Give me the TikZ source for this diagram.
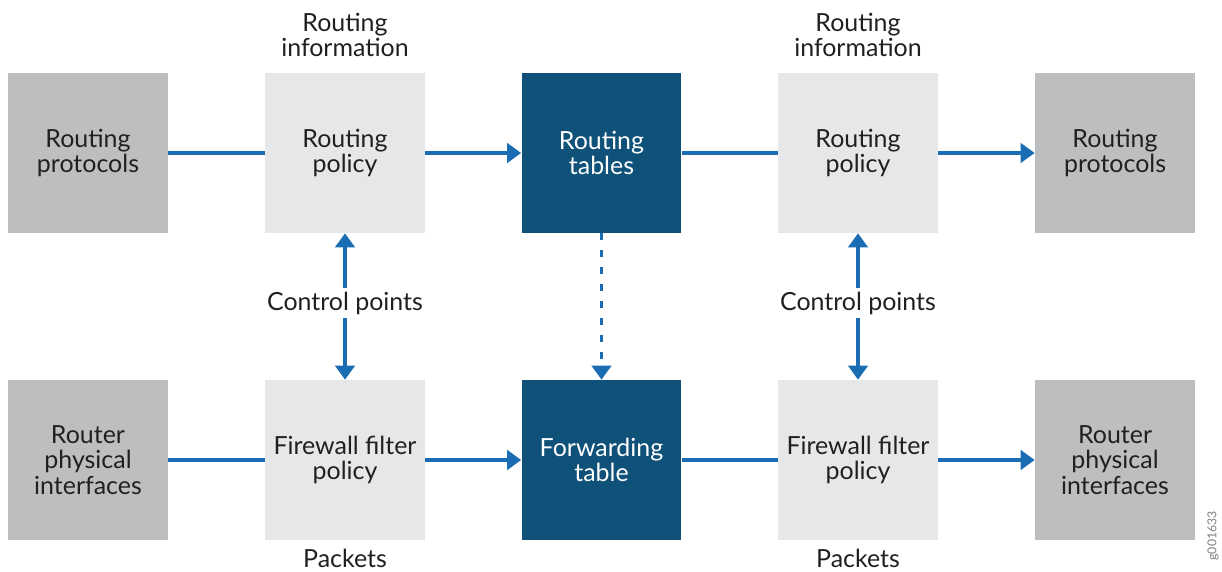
\documentclass[tikz,border=0pt]{standalone}
\usepackage{fontspec}
\setmainfont{Lato}
\usepackage{tikz}
\usetikzlibrary{arrows.meta,positioning}

\definecolor{darkgrey}{HTML}{BDBEC0}
\definecolor{lightgrey}{HTML}{E6E7E8}
\definecolor{navy}{HTML}{0F5178}
\definecolor{flow}{HTML}{1A6DB3}
\definecolor{ink}{HTML}{231F20}

\tikzset{
	box/.style={minimum width=3.2cm, minimum height=3.2cm, inner sep=0pt, align=center, text=ink, font=\fontsize{14.2}{14.4}\selectfont},
	outer/.style={box, fill=darkgrey},
	policy/.style={box, fill=lightgrey},
	table/.style={box, fill=navy, text=white},
	label/.style={align=center, text=ink, font=\fontsize{14.2}{14.4}\selectfont},
	flowline/.style={flow, line width=2.2pt},
	flowarrow/.style={flowline, -{Triangle[length=8pt,width=11pt]}},
	twoway/.style={flowline, {Triangle[length=8pt,width=11pt]}-{Triangle[length=8pt,width=11pt]}},
	dashedarrow/.style={flowarrow, dash pattern=on 0.14cm off 0.2cm}
}

\begin{document}
\begin{tikzpicture}[x=0.02cm,y=-0.02cm]
	\useasboundingbox (0,0) rectangle (1222,571);
	% top row
	\node[outer]  (protoin)  at (88,153)    {Routing\\protocols};
	\node[policy] (rpolin)   at (345,153)   {Routing\\policy};
	\node[table]  (rtables)  at (601.5,153) {Routing\\tables};
	\node[policy] (rpolout)  at (858,153)   {Routing\\policy};
	\node[outer]  (protoout) at (1115,153)  {Routing\\protocols};
	% bottom row
	\node[outer]  (ifin)     at (88,460)    {Router\\physical\\interfaces};
	\node[policy] (fwin)     at (345,460)   {Firewall filter\\policy};
	\node[table]  (fwdtable) at (601.5,460) {Forwarding\\table};
	\node[policy] (fwout)    at (858,460)   {Firewall filter\\policy};
	\node[outer]  (ifout)    at (1115,460)  {Router\\physical\\interfaces};
	% labels
	\node[label] (infoin)  at (345,35)  {Routing\\information};
	\node[label] (infoout) at (858,35)  {Routing\\information};
	\node[label, anchor=base, inner sep=0pt] (pktin)  at (345,567) {Packets};
	\node[label, anchor=base, inner sep=0pt] (pktout) at (858,567) {Packets};
	\node[text=gray, font=\fontsize{7}{8}\selectfont, rotate=90, anchor=east] (figid) at (1213,505) {g001633};
	% connectors
	\draw[flowline]  (protoin) -- (rpolin);
	\draw[flowarrow] (rpolin) -- (rtables);
	\draw[flowline]  (rtables) -- (rpolout);
	\draw[flowarrow] (rpolout) -- (protoout);
	\draw[flowline]  (ifin) -- (fwin);
	\draw[flowarrow] (fwin) -- (fwdtable);
	\draw[flowline]  (fwdtable) -- (fwout);
	\draw[flowarrow] (fwout) -- (ifout);
	\draw[twoway] (rpolin) -- (fwin);
	\draw[twoway] (rpolout) -- (fwout);
	\draw[dashedarrow] (rtables) -- (fwdtable);
	% control point labels sit on the vertical arrows
	\node[label, fill=white, inner sep=2pt] (ctlin)  at (345,303) {Control points};
	\node[label, fill=white, inner sep=2pt] (ctlout) at (858,303) {Control points};
\end{tikzpicture}
\end{document}
